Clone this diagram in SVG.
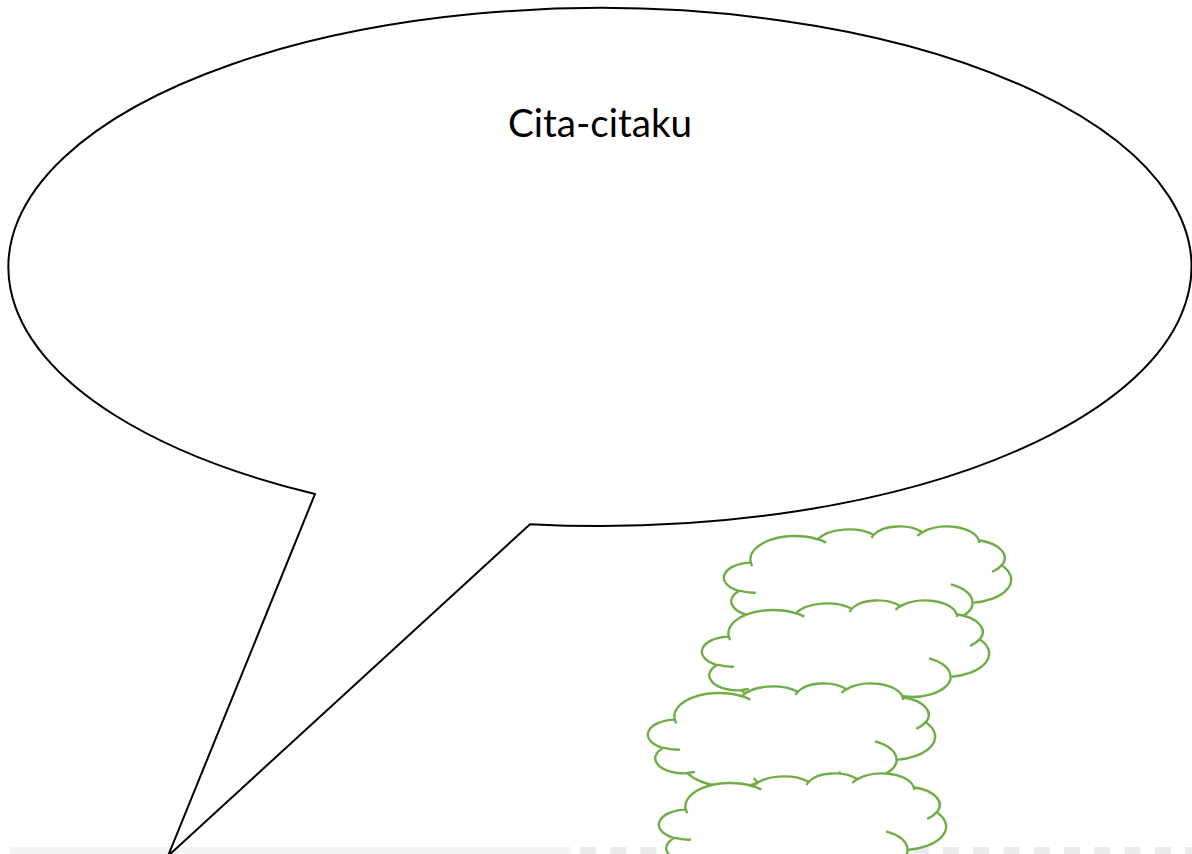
<svg xmlns="http://www.w3.org/2000/svg" width="1192" height="854" viewBox="0 0 1192 854">
  <style>
    .bubble { fill: #FFFFFF; stroke: #000000; stroke-width: 2; stroke-linejoin: miter; }
    .cloud { fill: #FFFFFF; stroke: #70AD47; stroke-width: 2.4; }
    .cloudline { fill: none; stroke: #70AD47; stroke-width: 2.4; }
    .label { font-family: Lato, "Liberation Sans", sans-serif; font-size: 38.6px; fill: #000000; }
  </style>
  <defs>
    <g id="cloudShape">
      <path class="cloud" d="M25.82,36.59 A44.71,23.40 0 0 1 92.73,13.25 A35.31,18.50 0 0 1 148.69,8.74 A28.90,15.14 0 0 1 197.53,6.32 A32.16,16.79 0 0 1 253.71,14.20 A35.31,18.52 0 0 1 276.89,39.37 A44.85,23.48 0 0 1 247.66,76.90 A38.30,20.03 0 0 1 189.07,93.73 A44.70,23.46 0 0 1 109.13,99.98 A51.11,26.85 0 0 1 38.45,90.31 A28.86,15.07 0 0 1 14.01,65.05 A28.77,15.14 0 0 1 25.82,36.59 Z"/>
      <path class="cloudline" d="M31.07,66.65 A28.77,15.14 0 0 1 14.30,64.63 M45.87,88.86 A28.86,15.07 0 0 1 38.52,89.84 M109.09,99.54 A44.70,23.46 0 0 1 104.67,95.10 M190.85,88.49 A44.70,23.46 0 0 1 189.08,93.35 M225.95,58.45 A38.30,20.03 0 0 1 247.48,76.62 M276.72,39.10 A35.31,18.52 0 0 1 267.13,45.91 M253.72,13.82 A32.16,16.79 0 0 1 254.22,17.03 M192.51,10.06 A32.16,16.79 0 0 1 197.41,5.96 M146.58,12.02 A28.90,15.14 0 0 1 148.96,8.48 M92.69,13.22 A44.71,23.40 0 0 1 101.29,16.66 M27.32,40.20 A44.71,23.40 0 0 1 25.82,36.59"/>
    </g>
  </defs>
  <rect width="1192" height="854" fill="#FFFFFF"/>
  <g id="bottom-strip">
    <rect x="10" y="847" width="561" height="7" fill="#F3F3F3"/>
    <line x1="580" y1="850.5" x2="1192" y2="850.5" stroke="#EBEBEB" stroke-width="7" stroke-dasharray="16 14.25"/>
  </g>
  <g id="connectors"></g>
  <g id="bubble">
    <path class="bubble" d="M315,494 A591.5,259 0 1 1 530,524.2 L168,856 Z"/>
    <text class="label" x="600" y="137" text-anchor="middle">Cita-citaku</text>
  </g>
  <g id="cloud1"><use href="#cloudShape" transform="translate(725,526)"/></g>
  <g id="cloud2"><use href="#cloudShape" transform="translate(703,600)"/></g>
  <g id="cloud3"><use href="#cloudShape" transform="translate(649,683)"/></g>
  <g id="cloud4"><use href="#cloudShape" transform="translate(660,773)"/></g>
</svg>
